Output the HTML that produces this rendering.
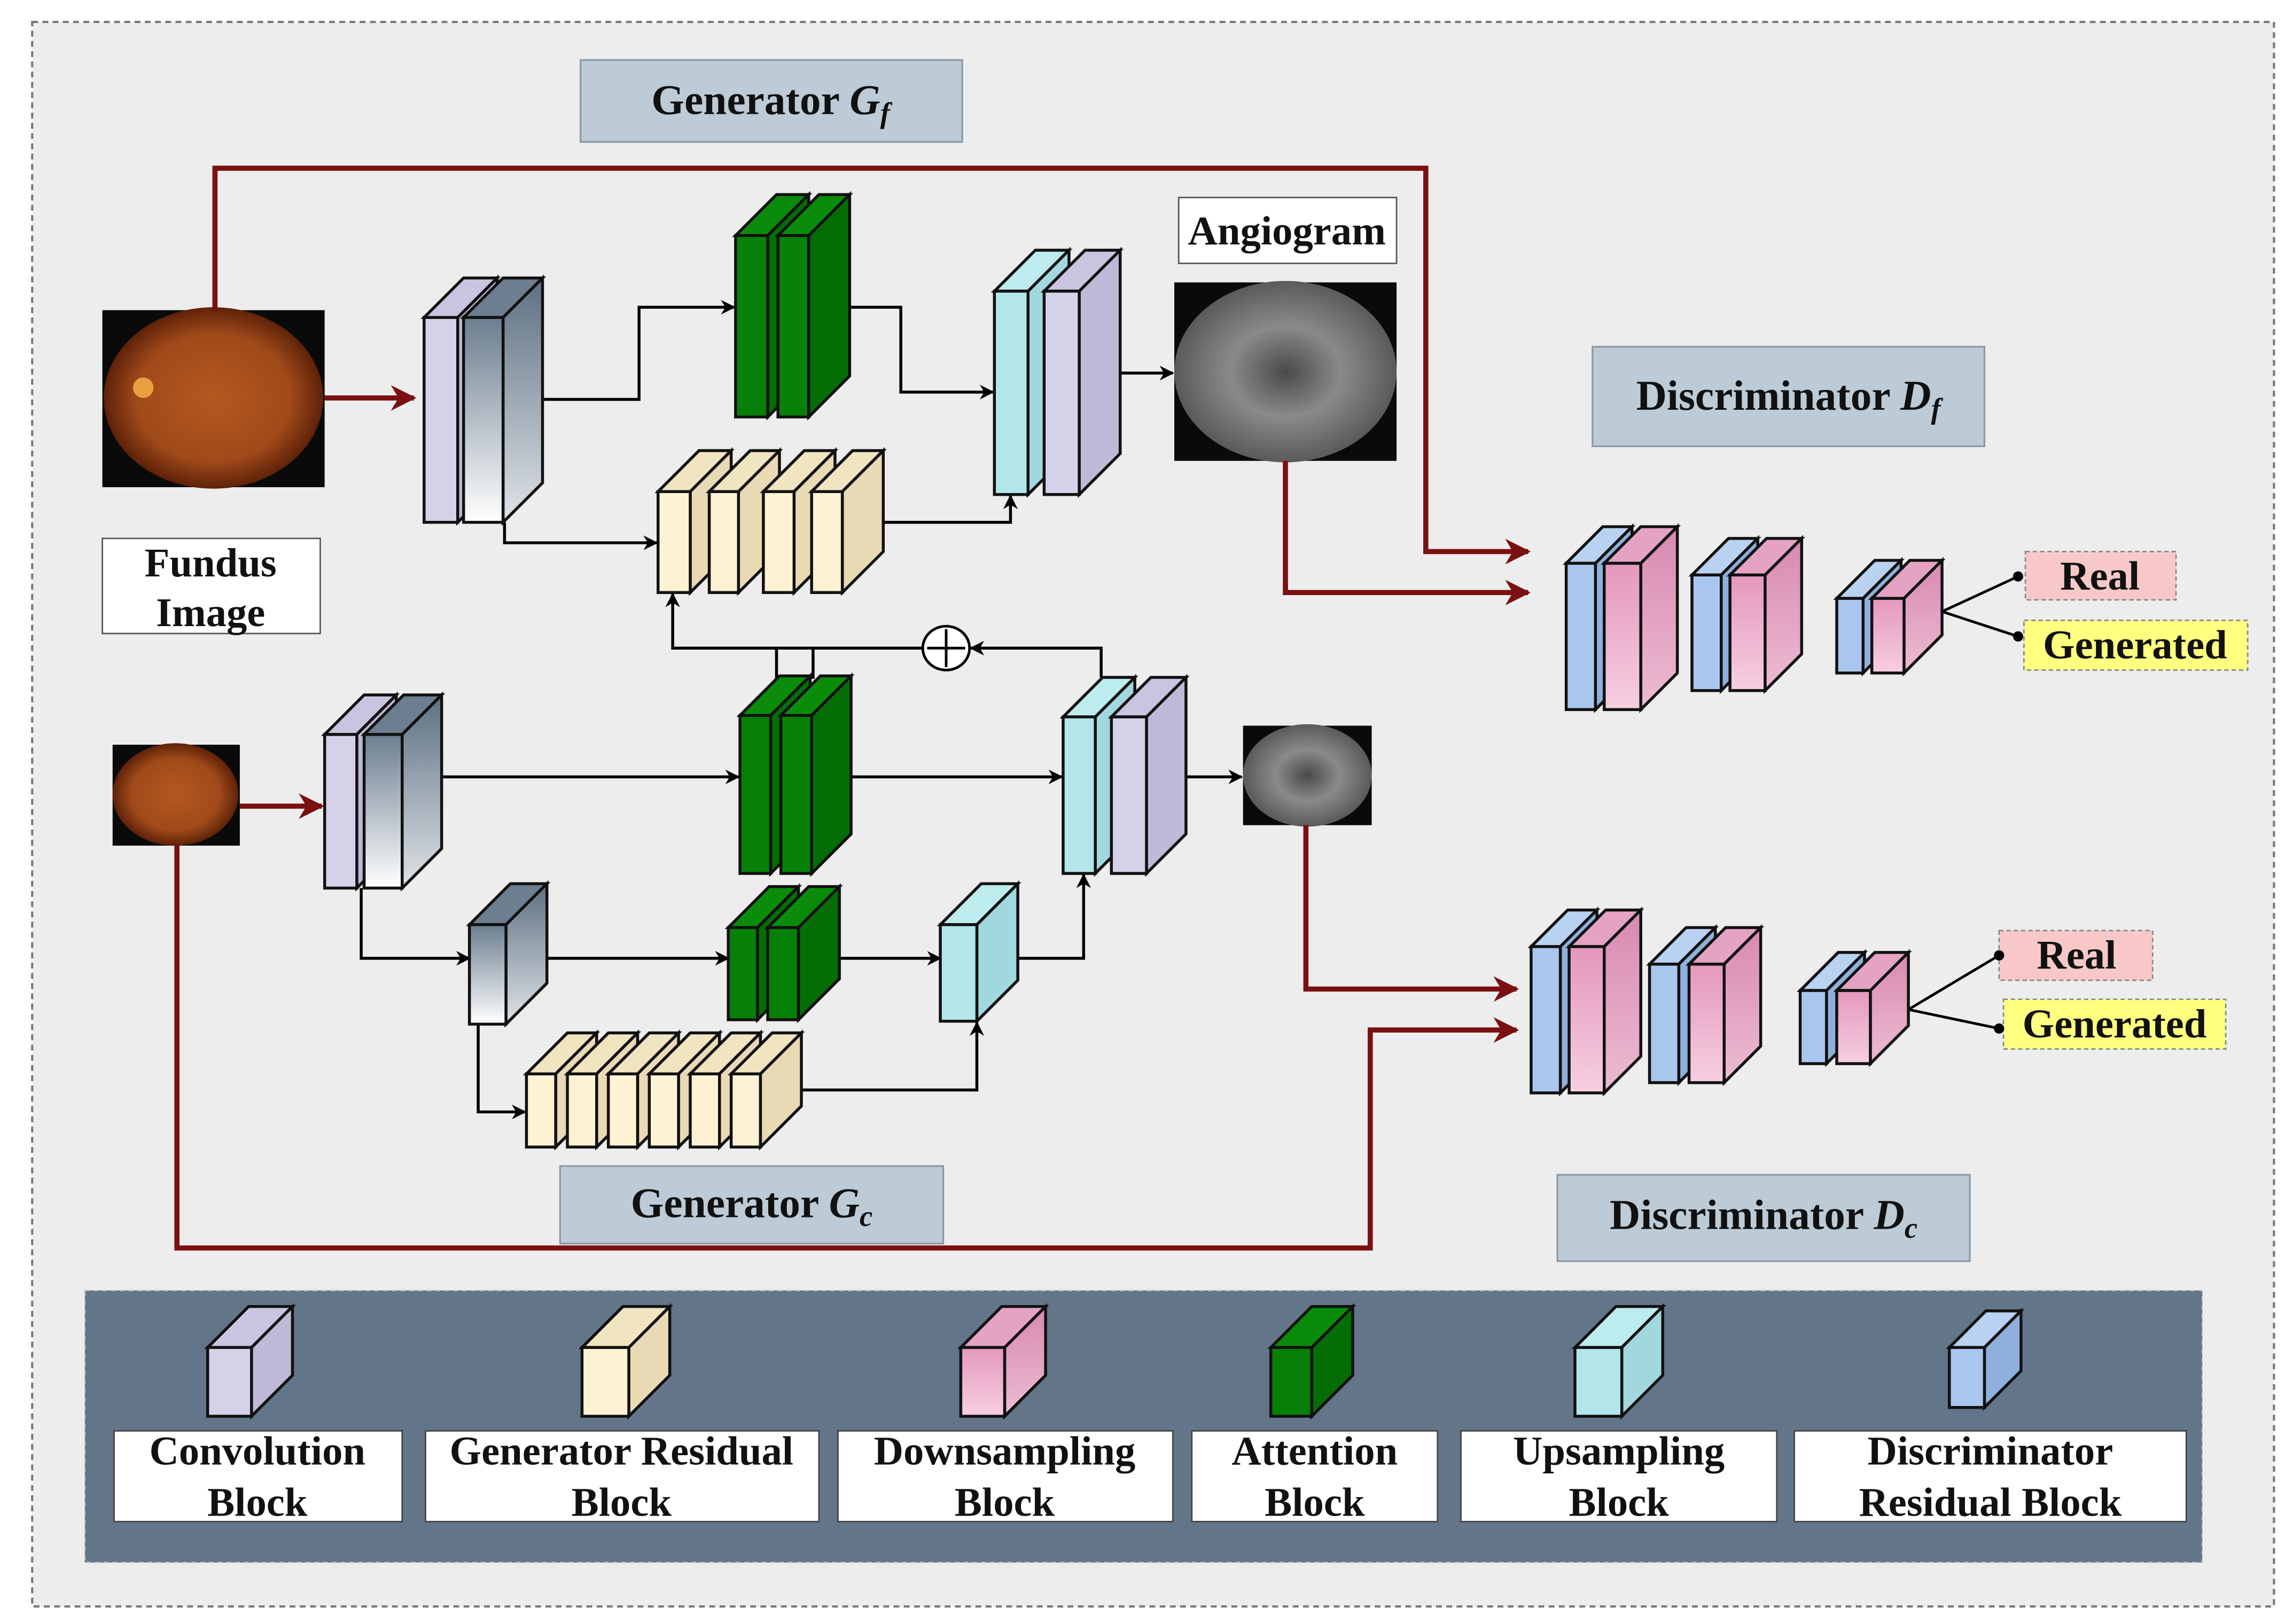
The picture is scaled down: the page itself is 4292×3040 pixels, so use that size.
<!DOCTYPE html>
<html><head><meta charset="utf-8"><style>
html,body{margin:0;padding:0;background:#fff}
svg{display:block}
text{font-family:"Liberation Serif",serif;font-weight:bold;fill:#111}
</style></head><body>
<svg id="s" xmlns="http://www.w3.org/2000/svg" width="4292" height="3040" viewBox="0 0 1568 1110" preserveAspectRatio="none">
<defs>
<linearGradient id="gconv" x1="0" y1="0" x2="0" y2="1"><stop offset="0" stop-color="#6c7e90"/><stop offset="1" stop-color="#ffffff"/></linearGradient>
<linearGradient id="gconvs" x1="0" y1="0" x2="0" y2="1"><stop offset="0" stop-color="#5d6f81"/><stop offset="1" stop-color="#dfe4e8"/></linearGradient>
<linearGradient id="gpink" x1="0" y1="0" x2="0" y2="1"><stop offset="0" stop-color="#e497bd"/><stop offset="1" stop-color="#f6cfe1"/></linearGradient>
<linearGradient id="gpinks" x1="0" y1="0" x2="0" y2="1"><stop offset="0" stop-color="#d889b0"/><stop offset="1" stop-color="#ecbcd2"/></linearGradient>
<radialGradient id="gfund" cx="0.5" cy="0.5" r="0.5"><stop offset="0" stop-color="#b4581f"/><stop offset="0.7" stop-color="#a04a1a"/><stop offset="1" stop-color="#5e2208"/></radialGradient>
<radialGradient id="gang" cx="0.5" cy="0.5" r="0.5"><stop offset="0" stop-color="#4a4a4a"/><stop offset="0.5" stop-color="#8a8a8a"/><stop offset="1" stop-color="#5a5a5a"/></radialGradient>
<marker id="ab" viewBox="0 0 10 10" refX="9" refY="5" markerWidth="5" markerHeight="5" orient="auto"><path d="M0,0 L10,5 L0,10 L3,5 z" fill="#000"/></marker>
<marker id="ar" viewBox="0 0 10 10" refX="9" refY="5" markerWidth="5" markerHeight="5" orient="auto"><path d="M0,0 L10,5 L0,10 L3,5 z" fill="#7a1010"/></marker>
</defs>
<rect x="0" y="0" width="1568" height="1110" fill="#fff"/>
<rect x="22" y="15" width="1533" height="1083" fill="#ededed" stroke="#777" stroke-width="1.5" stroke-dasharray="4,3"/>

<rect x="397" y="41" width="261" height="56" fill="#bccbd6" stroke="#8c9aa6" stroke-width="1.2"/>
<text x="527" y="78" font-size="29" text-anchor="middle">Generator <tspan font-style="italic">G</tspan><tspan font-style="italic" font-size="20" dy="6">f</tspan></text>
<rect x="1089" y="237" width="268" height="68" fill="#bccbd6" stroke="#8c9aa6" stroke-width="1.2"/>
<text x="1223" y="280" font-size="29" text-anchor="middle">Discriminator <tspan font-style="italic">D</tspan><tspan font-style="italic" font-size="20" dy="6">f</tspan></text>
<rect x="383" y="797" width="262" height="53" fill="#bccbd6" stroke="#8c9aa6" stroke-width="1.2"/>
<text x="514" y="832" font-size="29" text-anchor="middle">Generator <tspan font-style="italic">G</tspan><tspan font-style="italic" font-size="20" dy="6">c</tspan></text>
<rect x="1065" y="803" width="282" height="59" fill="#bccbd6" stroke="#8c9aa6" stroke-width="1.2"/>
<text x="1206" y="840" font-size="29" text-anchor="middle">Discriminator <tspan font-style="italic">D</tspan><tspan font-style="italic" font-size="20" dy="6">c</tspan></text>

<rect x="70" y="212" width="152" height="121" fill="#0a0a0a"/>
<ellipse cx="146" cy="272" rx="75" ry="62" fill="url(#gfund)"/>
<circle cx="98" cy="265" r="7" fill="#e8a040"/>
<rect x="77" y="509" width="87" height="69" fill="#0a0a0a"/>
<ellipse cx="120" cy="543" rx="43" ry="35" fill="url(#gfund)"/>
<rect x="803" y="193" width="152" height="122" fill="#0a0a0a"/>
<ellipse cx="879" cy="254" rx="76" ry="62" fill="url(#gang)"/>
<rect x="850" y="496" width="88" height="68" fill="#0a0a0a"/>
<ellipse cx="894" cy="530" rx="44" ry="35" fill="url(#gang)"/>

<rect x="70" y="368" width="149" height="65" fill="#fff" stroke="#555" stroke-width="1"/>
<text x="144" y="394" font-size="28" text-anchor="middle">Fundus</text>
<text x="144" y="428" font-size="28" text-anchor="middle">Image</text>
<rect x="806" y="135" width="149" height="45" fill="#fff" stroke="#555" stroke-width="1"/>
<text x="880" y="167" font-size="28" text-anchor="middle">Angiogram</text>

<rect x="1385" y="377" width="103" height="33" fill="#f8c8c8" stroke="#888" stroke-dasharray="3,2"/>
<text x="1436" y="403" font-size="28" text-anchor="middle">Real</text>
<rect x="1384" y="424" width="153" height="34" fill="#ffff80" stroke="#888" stroke-dasharray="3,2"/>
<text x="1460" y="450" font-size="28" text-anchor="middle">Generated</text>
<rect x="1367" y="636" width="105" height="34" fill="#f8c8c8" stroke="#888" stroke-dasharray="3,2"/>
<text x="1420" y="662" font-size="28" text-anchor="middle">Real</text>
<rect x="1370" y="683" width="152" height="34" fill="#ffff80" stroke="#888" stroke-dasharray="3,2"/>
<text x="1446" y="709" font-size="28" text-anchor="middle">Generated</text>
<g stroke="#000" stroke-width="1.8" fill="none">
<path d="M1328,418 L1380,394 M1328,418 L1380,435"/>
<path d="M1305,690 L1367,653 M1305,690 L1367,703"/>
</g>
<g fill="#000"><circle cx="1380" cy="394" r="3.5"/><circle cx="1380" cy="435" r="3.5"/><circle cx="1367" cy="653" r="3.5"/><circle cx="1367" cy="703" r="3.5"/></g>

<g stroke="#7a1010" stroke-width="3.5" fill="none">
<path d="M147,212 V115 H975 V377 H1045" marker-end="url(#ar)"/>
<path d="M222,272 H283" marker-end="url(#ar)"/>
<path d="M879,315 V405 H1045" marker-end="url(#ar)"/>
<path d="M164,551 H220" marker-end="url(#ar)"/>
<path d="M121,578 V853 H937 V704 H1037" marker-end="url(#ar)"/>
<path d="M893,564 V676 H1037" marker-end="url(#ar)"/>
</g>

<g stroke="#000" stroke-width="2" fill="none">
<path d="M372,273 H437 V210 H502" marker-end="url(#ab)"/>
<path d="M582,210 H616 V268 H679" marker-end="url(#ab)"/>
<path d="M345,357 V371 H449" marker-end="url(#ab)"/>
<path d="M604,357 H691 V339" marker-end="url(#ab)"/>
<path d="M766,255 H802" marker-end="url(#ab)"/>
<path d="M631,443 H460 V406" marker-end="url(#ab)"/>
<path d="M531,443 V464 M556,443 V464"/>
<path d="M753,463 V443 H664" marker-end="url(#ab)"/>
<path d="M302,531 H505" marker-end="url(#ab)"/>
<path d="M582,531 H726" marker-end="url(#ab)"/>
<path d="M811,531 H849" marker-end="url(#ab)"/>
<path d="M247,607 V655 H321" marker-end="url(#ab)"/>
<path d="M374,655 H498" marker-end="url(#ab)"/>
<path d="M574,655 H643" marker-end="url(#ab)"/>
<path d="M696,655 H741 V598" marker-end="url(#ab)"/>
<path d="M327,700 V760 H359" marker-end="url(#ab)"/>
<path d="M548,745 H668 V699" marker-end="url(#ab)"/>
</g>
<ellipse cx="647" cy="443" rx="16" ry="15" fill="#fff" stroke="#000" stroke-width="1.8"/>
<path d="M634,443 H660 M647,430 V456" stroke="#000" stroke-width="1.8"/>

<rect x="58" y="882" width="1448" height="186" fill="#637588" stroke="#ccc" stroke-width="1" stroke-dasharray="3,3"/>
<g fill="#fff" stroke="#444" stroke-width="1">
<rect x="78" y="978" width="197" height="62"/>
<rect x="291" y="978" width="269" height="62"/>
<rect x="573" y="978" width="229" height="62"/>
<rect x="815" y="978" width="168" height="62"/>
<rect x="999" y="978" width="216" height="62"/>
<rect x="1227" y="978" width="268" height="62"/>
</g>
<g font-size="28" text-anchor="middle">
<text x="176" y="1001">Convolution</text><text x="176" y="1036">Block</text>
<text x="425" y="1001">Generator Residual</text><text x="425" y="1036">Block</text>
<text x="687" y="1001">Downsampling</text><text x="687" y="1036">Block</text>
<text x="899" y="1001">Attention</text><text x="899" y="1036">Block</text>
<text x="1107" y="1001">Upsampling</text><text x="1107" y="1036">Block</text>
<text x="1361" y="1001">Discriminator</text><text x="1361" y="1036">Residual Block</text>
</g>
<g id="slabs"></g>
</svg>
<script>
(function(){
var g=document.getElementById('slabs');
var C={
lav:['#d5d1e8','#bdb9d6','#c9c5e0'],
conv:['url(#gconv)','url(#gconvs)','#6c7e90'],
grn:['#078007','#056d05','#0a8c0a'],
yel:['#fdf2d4','#e9dab5','#f1e4c0'],
cyn:['#b2e6ea','#a1d8dd','#bdecef'],
blu:['#a9c6ee','#8fb0dc','#b9d2f2'],
pnk:['url(#gpink)','url(#gpinks)','#e5a3c4']
};
function slab(x,w,y0,y1,d,c){
var col=C[c],s='';
var ft=y0+d;
s+='<polygon points="'+x+','+ft+' '+(x+d)+','+y0+' '+(x+w+d)+','+y0+' '+(x+w)+','+ft+'" fill="'+col[2]+'"/>';
s+='<polygon points="'+(x+w)+','+ft+' '+(x+w+d)+','+y0+' '+(x+w+d)+','+(y1-d)+' '+(x+w)+','+y1+'" fill="'+col[1]+'"/>';
s+='<rect x="'+x+'" y="'+ft+'" width="'+w+'" height="'+(y1-ft)+'" fill="'+col[0]+'"/>';
g.insertAdjacentHTML('beforeend','<g stroke="#111" stroke-width="2" stroke-linejoin="miter">'+s+'</g>');
}
slab(290,23,190,357,27,'lav');slab(317,27,190,357,27,'conv');
slab(503,22,133,285,28,'grn');slab(532,21,133,285,28,'grn');
slab(450,22,308,405,28,'yel');slab(485,20,308,405,28,'yel');slab(522,21,308,405,28,'yel');slab(555,21,308,405,28,'yel');
slab(680,23,171,338,28,'cyn');slab(714,24,171,338,28,'lav');
slab(222,22,475,607,27,'lav');slab(249,26,475,607,27,'conv');
slab(506,21,462,597,27,'grn');slab(534,21,462,597,27,'grn');
slab(727,22,463,597,27,'cyn');slab(760,24,463,597,27,'lav');
slab(321,25,604,700,28,'conv');
slab(498,20,606,697,28,'grn');slab(525,21,606,697,28,'grn');
slab(643,25,604,698,28,'cyn');
[360,388,416,444,472,500].forEach(function(x){slab(x,20,706,784,28,'yel');});
slab(1071,20,360,485,25,'blu');slab(1097,25,360,485,25,'pnk');
slab(1157,20,368,472,25,'blu');slab(1183,24,368,472,25,'pnk');
slab(1256,18,383,460,26,'blu');slab(1280,22,383,460,26,'pnk');
slab(1047,20,622,747,25,'blu');slab(1073,24,622,747,25,'pnk');
slab(1128,20,634,740,25,'blu');slab(1155,24,634,740,25,'pnk');
slab(1231,18,651,727,26,'blu');slab(1256,23,651,727,26,'pnk');
slab(142,30,893,968,28,'lav');
slab(398,32,893,968,28,'yel');
slab(657,30,893,968,28,'pnk');
slab(869,28,893,968,28,'grn');
slab(1077,32,893,968,28,'cyn');
slab(1333,24,896,962,25,'blu');
})();
</script>
</body></html>
